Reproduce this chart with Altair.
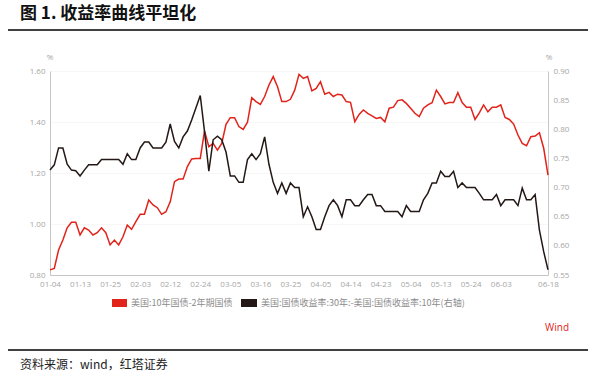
import altair as alt
import pandas as pd

# Trading days (categories)
holidays = ["2021-01-18", "2021-02-15", "2021-05-31"]
dates = [d.strftime("%m-%d") for d in pd.bdate_range("2021-01-04", "2021-06-18")
         if d.strftime("%Y-%m-%d") not in holidays]

tick_labels = ["01-04", "01-13", "01-25", "02-03", "02-12", "02-24", "03-05", "03-16",
               "03-25", "04-05", "04-14", "04-23", "05-04", "05-13", "05-24", "06-03", "06-18"]

# 美国:10年国债-2年期国债 (left axis)
spread_10_2 = [
    0.82, 0.826, 0.898, 0.937, 0.985, 1.007, 1.007, 0.957, 0.985, 0.976,
    0.957, 0.966, 0.985, 0.966, 0.918, 0.937, 0.918, 0.95, 0.996, 0.979,
    1.009, 1.038, 1.038, 1.094, 1.075, 1.064, 1.038, 1.048, 1.087, 1.166,
    1.176, 1.176, 1.225, 1.255, 1.257, 1.257, 1.365, 1.303, 1.316, 1.29,
    1.316, 1.391, 1.417, 1.417, 1.382, 1.371, 1.399, 1.495, 1.48, 1.469,
    1.50, 1.545, 1.578, 1.538, 1.48, 1.48, 1.489, 1.525, 1.587, 1.571,
    1.578, 1.522, 1.532, 1.558, 1.509, 1.516, 1.50, 1.509, 1.506, 1.48,
    1.477, 1.401, 1.43, 1.447, 1.434, 1.424, 1.414, 1.418, 1.401, 1.454,
    1.458, 1.484, 1.487, 1.473, 1.454, 1.434, 1.421, 1.454, 1.467, 1.476,
    1.525, 1.50, 1.471, 1.476, 1.476, 1.515, 1.476, 1.458, 1.458, 1.41,
    1.436, 1.467, 1.44, 1.458, 1.458, 1.467, 1.418, 1.41, 1.392, 1.349,
    1.316, 1.307, 1.342, 1.345, 1.358, 1.297, 1.192,
]

# 美国:国债收益率:30年-10年 (right axis)
spread_30_10 = [
    0.730, 0.739, 0.768, 0.768, 0.740, 0.730, 0.729, 0.720, 0.730, 0.739,
    0.739, 0.739, 0.748, 0.748, 0.748, 0.748, 0.748, 0.740, 0.758, 0.748,
    0.748, 0.768, 0.778, 0.778, 0.768, 0.768, 0.768, 0.778, 0.809, 0.779,
    0.768, 0.787, 0.797, 0.816, 0.837, 0.858, 0.796, 0.728, 0.782, 0.788,
    0.782, 0.761, 0.720, 0.720, 0.709, 0.709, 0.748, 0.758, 0.748, 0.758,
    0.787, 0.740, 0.709, 0.690, 0.708, 0.690, 0.708, 0.700, 0.700, 0.650,
    0.667, 0.650, 0.628, 0.628, 0.650, 0.669, 0.679, 0.669, 0.650, 0.679,
    0.679, 0.669, 0.669, 0.679, 0.688, 0.688, 0.669, 0.669, 0.659, 0.659,
    0.659, 0.659, 0.650, 0.669, 0.659, 0.659, 0.659, 0.679, 0.690, 0.708,
    0.708, 0.728, 0.719, 0.719, 0.728, 0.700, 0.708, 0.700, 0.700, 0.700,
    0.690, 0.679, 0.679, 0.679, 0.688, 0.669, 0.679, 0.679, 0.679, 0.669,
    0.699, 0.679, 0.679, 0.688, 0.627, 0.590, 0.559,
]

left_ticks = [0.8, 1.0, 1.2, 1.4, 1.6]
right_ticks = [0.55, 0.60, 0.65, 0.70, 0.75, 0.80, 0.85, 0.90]

RED = "#e2231a"
BLACK = "#231815"
GRAY_TXT = "#a6a6a6"
AXIS_FONT = "Open Sans"
CJK = "Noto Sans CJK SC"

df = pd.DataFrame({"date": dates, "s102": spread_10_2, "s3010": spread_30_10})

W, H = 498, 204

x_enc = alt.X(
    "date:O",
    scale=alt.Scale(type="point", padding=0, domain=dates),
    axis=alt.Axis(values=tick_labels, labelAngle=0, title=None, ticks=False,
                  domainColor="#c6c6c6", domainWidth=1, labelColor=GRAY_TXT,
                  labelFont=AXIS_FONT, labelFontSize=8, labelPadding=5),
)

red = alt.Chart(df).mark_line(color=RED, strokeWidth=1.5).encode(
    x=x_enc,
    y=alt.Y("s102:Q", scale=alt.Scale(domain=[0.8, 1.6], nice=False, zero=False),
            axis=alt.Axis(orient="left", values=left_ticks, format=".2f", title=None,
                          ticks=False, domainColor="#c6c6c6", labelColor=GRAY_TXT,
                          labelFont=AXIS_FONT, labelFontSize=8, labelPadding=5,
                          grid=True, gridColor="#f7f7f7")),
)

black = alt.Chart(df).mark_line(color=BLACK, strokeWidth=1.5).encode(
    x=x_enc,
    y=alt.Y("s3010:Q", scale=alt.Scale(domain=[0.55, 0.90], nice=False, zero=False),
            axis=alt.Axis(orient="right", values=right_ticks, format=".2f", title=None,
                          ticks=False, domainColor="#c6c6c6", labelColor=GRAY_TXT,
                          labelFont=AXIS_FONT, labelFontSize=8, labelPadding=5,
                          grid=False)),
)

one = pd.DataFrame({"a": [0]})


def txt(text, x, y, size=9, color="#7f7f7f", font=CJK, weight="normal", align="left"):
    return alt.Chart(one).mark_text(
        text=text, fontSize=size, color=color, font=font, fontWeight=weight,
        align=align, baseline="middle",
    ).encode(x=alt.value(x), y=alt.value(y))


def rule(x1, x2, y, color="#000000", w=1.5):
    return alt.Chart(one).mark_rule(color=color, strokeWidth=w).encode(
        x=alt.value(x1), x2=alt.value(x2), y=alt.value(y))


def rect(x1, x2, y1, y2, color):
    return alt.Chart(one).mark_rect(color=color).encode(
        x=alt.value(x1), x2=alt.value(x2), y=alt.value(y1), y2=alt.value(y2))


# offsets: plot area origin at image (50, 71)
title = txt("图 1. 收益率曲线平坦化", -30, -57, size=17, color="#111111", weight="bold")
top_rule = rule(-42, 538, -41)
pct_left = txt("%", 0, -13, size=8, color=GRAY_TXT, font=AXIS_FONT, align="center")
pct_right = txt("%", 499, -13, size=8, color=GRAY_TXT, font=AXIS_FONT, align="center")
leg_r = rect(62, 77, 228, 236, RED)
leg_r_t = txt("美国:10年国债-2年期国债", 81, 232, size=9, color="#8c8c8c")
leg_b = rect(191, 207, 228, 236, BLACK)
leg_b_t = txt("美国:国债收益率:30年:-美国:国债收益率:10年(右轴)", 211, 232, size=9, color="#8c8c8c")
wind = txt("Wind", 495, 257, size=10, color=RED, font=AXIS_FONT)
bottom_rule = rule(-42, 538, 279)
source = txt("资料来源：wind，红塔证券", -30, 294, size=12, color="#222222")

chart = alt.layer(
    red, black, title, top_rule, pct_left, pct_right, leg_r, leg_r_t, leg_b, leg_b_t,
    wind, bottom_rule, source,
).resolve_scale(y="independent").properties(
    width=W, height=H,
    autosize=alt.AutoSizeParams(type="none"),
    padding={"left": 50, "top": 71, "right": 47, "bottom": 102},
    background="white",
).configure_view(strokeWidth=0)

chart.save("out.html", embed_options={"renderer": "svg", "actions": False})
